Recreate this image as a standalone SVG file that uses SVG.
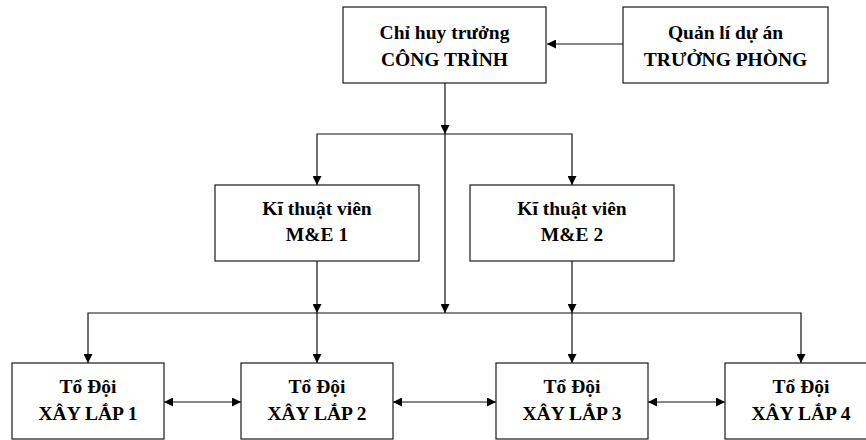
<svg xmlns="http://www.w3.org/2000/svg" width="866" height="440" viewBox="0 0 866 440">
<defs>
<style>
.box{fill:#fff;stroke:#1a1a1a;stroke-width:1.2}
.t{font-family:"Liberation Serif","Times New Roman",serif;font-weight:bold;font-size:19.5px;fill:#000;text-anchor:middle}
.c{fill:none;stroke:#111;stroke-width:1.2}
</style>
<marker id="ah" viewBox="0 0 10 10" refX="10" refY="5" markerWidth="9" markerHeight="9" markerUnits="userSpaceOnUse" orient="auto-start-reverse">
<path d="M0,0 L10,5 L0,10 z" fill="#000"/>
</marker>
</defs>
<rect width="866" height="440" fill="#fff"/>
<g id="connectors">
<path class="c" d="M623,44 H547" marker-end="url(#ah)"/>
<path class="c" d="M445,83 V134" marker-end="url(#ah)"/>
<path class="c" d="M445,134 V313" marker-end="url(#ah)"/>
<path class="c" d="M317,185 V134 H572 V185" marker-start="url(#ah)" marker-end="url(#ah)"/>
<path class="c" d="M317,261 V313" marker-end="url(#ah)"/>
<path class="c" d="M572,261 V313" marker-end="url(#ah)"/>
<path class="c" d="M88,363 V313 H801 V363" marker-start="url(#ah)" marker-end="url(#ah)"/>
<path class="c" d="M317,313 V363" marker-end="url(#ah)"/>
<path class="c" d="M572,313 V363" marker-end="url(#ah)"/>
<path class="c" d="M164,402 H241" marker-start="url(#ah)" marker-end="url(#ah)"/>
<path class="c" d="M393,402 H496" marker-start="url(#ah)" marker-end="url(#ah)"/>
<path class="c" d="M648,402 H725" marker-start="url(#ah)" marker-end="url(#ah)"/>
</g>
<g id="chi-huy-truong">
<rect class="box" x="343" y="7" width="203" height="76"/>
<text class="t" x="444.5" y="38.5">Chỉ huy trưởng</text>
<text class="t" x="444.5" y="65.5">CÔNG TRÌNH</text>
</g>
<g id="quan-li-du-an">
<rect class="box" x="623" y="7" width="205" height="76"/>
<text class="t" x="725.5" y="38.5">Quản lí dự án</text>
<text class="t" x="725.5" y="65.5">TRƯỞNG PHÒNG</text>
</g>
<g id="ktv-me-1">
<rect class="box" x="215" y="185" width="204" height="76"/>
<text class="t" x="317" y="215">Kĩ thuật viên</text>
<text class="t" x="317" y="241">M&amp;E 1</text>
</g>
<g id="ktv-me-2">
<rect class="box" x="470" y="185" width="204" height="76"/>
<text class="t" x="572" y="215">Kĩ thuật viên</text>
<text class="t" x="572" y="241">M&amp;E 2</text>
</g>
<g id="to-doi-1">
<rect class="box" x="12" y="363" width="152" height="76"/>
<text class="t" x="88" y="393">Tổ Đội</text>
<text class="t" x="88" y="420">XÂY LẮP 1</text>
</g>
<g id="to-doi-2">
<rect class="box" x="241" y="363" width="152" height="76"/>
<text class="t" x="317" y="393">Tổ Đội</text>
<text class="t" x="317" y="420">XÂY LẮP 2</text>
</g>
<g id="to-doi-3">
<rect class="box" x="496" y="363" width="152" height="76"/>
<text class="t" x="572" y="393">Tổ Đội</text>
<text class="t" x="572" y="420">XÂY LẮP 3</text>
</g>
<g id="to-doi-4">
<rect class="box" x="725" y="363" width="152" height="76"/>
<text class="t" x="801" y="393">Tổ Đội</text>
<text class="t" x="801" y="420">XÂY LẮP 4</text>
</g>
</svg>
